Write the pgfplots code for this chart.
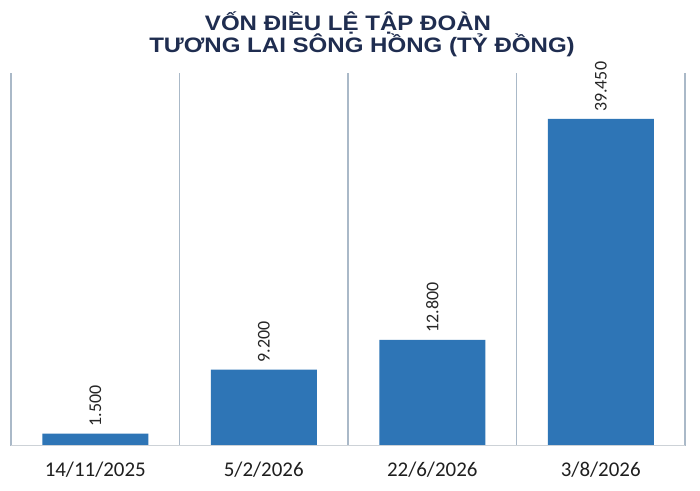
\documentclass[border=0pt]{standalone}
\usepackage{fontspec}
\setmainfont{Carlito}
\newfontfamily\titlefont{Liberation Sans}
\usepackage{pgfplots}
\pgfplotsset{compat=1.18}
\definecolor{barblue}{RGB}{46,117,182}
\definecolor{titlenavy}{RGB}{31,45,80}
\definecolor{gridc}{RGB}{170,185,200}
\definecolor{basec}{RGB}{205,210,215}
\begin{document}
\begin{tikzpicture}[x=1bp,y=1bp]
\useasboundingbox (0,0) rectangle (700,491);
\fill[white] (0,0) rectangle (700,491);
\node[anchor=base, font=\titlefont\bfseries\fontsize{21}{21}\selectfont, text=titlenavy, xscale=1.15, inner sep=0pt] at (348,460) {VỐN ĐIỀU LỆ TẬP ĐOÀN};
\node[anchor=base, font=\titlefont\bfseries\fontsize{21}{21}\selectfont, text=titlenavy, xscale=1.15, inner sep=0pt] at (362,438) {TƯƠNG LAI SÔNG HỒNG (TỶ ĐỒNG)};
\begin{axis}[
  at={(11bp,45bp)}, anchor=south west,
  scale only axis, width=674bp, height=373bp,
  ybar, bar width=106bp, bar shift=0pt,
  xmin=-0.5, xmax=3.5, ymin=0, ymax=45000,
  axis line style={draw=none},
  ytick=\empty,
  xtick={0,1,2,3},
  xticklabels={14/11/2025, 5/2/2026, 22/6/2026, 3/8/2026},
  major tick length=0pt,
  minor xtick={-0.5,0.5,1.5,2.5,3.5},
  minor tick length=0pt,
  xminorgrids,
  minor grid style={gridc, line width=1.3bp},
  xticklabel style={font=\fontsize{21}{21}\selectfont, anchor=base, yshift=-31bp, text=black!88},
  clip=false,
  nodes near coords={\pgfmathprintnumber[fixed, precision=0, 1000 sep={.}, assume math mode=true]{\pgfplotspointmeta}},
  nodes near coords style={rotate=90, anchor=west, inner xsep=7bp, inner ysep=0pt, font=\fontsize{18}{18}\selectfont, text=black!85},
]
\addplot[fill=barblue, draw=none] coordinates {(0,1500) (1,9200) (2,12800) (3,39450)};
\draw[basec, line width=1bp] (axis cs:-0.5,0) -- (axis cs:3.5,0);
\end{axis}
\end{tikzpicture}
\end{document}
